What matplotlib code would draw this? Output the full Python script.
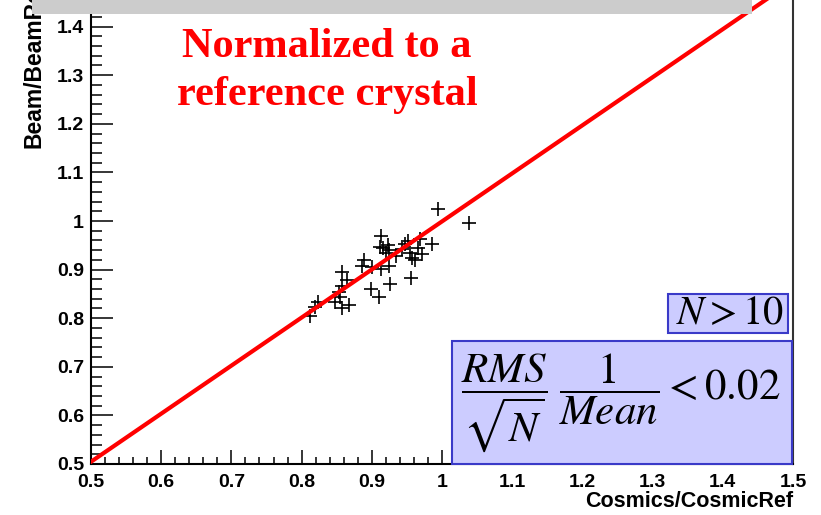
import numpy as np
import matplotlib
matplotlib.use('Agg')
import matplotlib.pyplot as plt
import matplotlib.ticker as ticker
from matplotlib.patches import Rectangle

# crystal response: cosmics ratio vs beam ratio, both relative to the reference crystal
cosmics = [0.9943, 1.0385, 0.9131, 0.9117, 0.9245, 0.9245, 0.9131, 0.9003, 0.8889, 0.8860,
           0.9259, 0.8989, 0.9103, 0.8575, 0.8647, 0.8575, 0.8533, 0.8547, 0.8476, 0.8575,
           0.8675, 0.8234, 0.8191, 0.8120, 0.9687, 0.9858, 0.9473, 0.9430, 0.9544, 0.9573,
           0.9715, 0.9658, 0.9558, 0.9345, 0.9516, 0.9615, 0.9202, 0.9231, 0.9160]
beam = [1.0237, 0.9969, 0.9701, 0.9474, 0.9412, 0.9082, 0.9021, 0.9062, 0.9206, 0.9082,
        0.8711, 0.8608, 0.8443, 0.8959, 0.8794, 0.8670, 0.8546, 0.8443, 0.8340, 0.8216,
        0.8278, 0.8340, 0.8237, 0.8052, 0.9639, 0.9536, 0.9536, 0.9433, 0.9351, 0.9247,
        0.9330, 0.9454, 0.8835, 0.9289, 0.9598, 0.9206, 0.9351, 0.9515, 0.9454]

# straight-line fit
fit_intercept = 0.0102
fit_slope = 0.9889

W, H = 821, 515
fig = plt.figure(figsize=(W / 100, H / 100), dpi=100)

# frame runs past the top edge of the page
x0, x1 = 91, 793
y_bot, y_top = 464, -22
ax = fig.add_axes([x0 / W, (H - y_bot) / H, (x1 - x0) / W, (y_bot - y_top) / H])

ax.plot(cosmics, beam, '+', color='black', markersize=10, markeredgewidth=1.2, zorder=3)

xfit = np.array([0.5, 1.5])
ax.plot(xfit, fit_intercept + fit_slope * xfit, color='#ff0000', linewidth=3, zorder=4)

ax.set_xlim(0.5, 1.5)
ax.set_ylim(0.5, 1.5)

ax.xaxis.set_major_locator(ticker.MultipleLocator(0.1))
ax.xaxis.set_minor_locator(ticker.MultipleLocator(0.02))
ax.yaxis.set_major_locator(ticker.MultipleLocator(0.1))
ax.yaxis.set_minor_locator(ticker.MultipleLocator(0.02))
fmt = ticker.FuncFormatter(lambda v, p: ('%.1f' % v).replace('1.0', '1'))
ax.xaxis.set_major_formatter(fmt)
ax.yaxis.set_major_formatter(fmt)

ax.tick_params(axis='x', which='major', direction='in', length=10, width=1.1, pad=7)
ax.tick_params(axis='x', which='minor', direction='in', length=5, width=1.1)
ax.tick_params(axis='y', which='major', direction='in', length=16, width=1.1, pad=5)
ax.tick_params(axis='y', which='minor', direction='in', length=8, width=1.1)
for lab in ax.get_xticklabels() + ax.get_yticklabels():
    lab.set_fontfamily('Liberation Sans')
    lab.set_fontweight('bold')
    lab.set_fontsize(14)

for side in ['left', 'bottom', 'right']:
    ax.spines[side].set_linewidth(1.5)
ax.spines['right'].set_color('#333333')

ax.set_xlabel('Cosmics/CosmicRef', fontfamily='Liberation Sans', fontweight='bold',
              fontsize=15.5)
ax.xaxis.set_label_coords(1.0, -0.056)
ax.xaxis.label.set_horizontalalignment('right')

fig.text(34 / W, (H - 148) / H, 'Beam/BeamRef', rotation=90, ha='center', va='bottom',
         fontfamily='Liberation Sans', fontweight='bold', fontsize=16.5)

# title note
fig.text(327 / W, (H - 47) / H, 'Normalized to a', color='#ff0000', ha='center', va='center',
         fontfamily='Liberation Serif', fontweight='bold', fontsize=30.5)
fig.text(327 / W, (H - 95) / H, 'reference crystal', color='#ff0000', ha='center', va='center',
         fontfamily='Liberation Serif', fontweight='bold', fontsize=30.5)

# selection cuts
plt.rcParams['mathtext.fontset'] = 'stix'
box_fc = '#ccccff'
box_ec = '#3a3ac8'
fig.add_artist(Rectangle((668 / W, (H - 333) / H), 120 / W, 39 / H, transform=fig.transFigure,
                         facecolor=box_fc, edgecolor=box_ec, linewidth=1.5, zorder=5))
fig.text(730 / W, (H - 313) / H, r'$N > 10$', ha='center', va='center', fontsize=29,
         zorder=6)

fig.add_artist(Rectangle((452 / W, (H - 464) / H), 340 / W, 123 / H, transform=fig.transFigure,
                         facecolor=box_fc, edgecolor=box_ec, linewidth=1.5, zorder=5))
fig.text(621 / W, (H - 403) / H, r'$\dfrac{RMS}{\sqrt{N}}\;\dfrac{1}{Mean} < 0.02$',
         ha='center', va='center', fontsize=31, zorder=6)

# grey strip along the top
fig.add_artist(Rectangle((32 / W, (H - 14) / H), 720 / W, 14 / H, transform=fig.transFigure,
                         facecolor='#cccccc', edgecolor='none', zorder=10))

fig.savefig('out.png', dpi=100)
